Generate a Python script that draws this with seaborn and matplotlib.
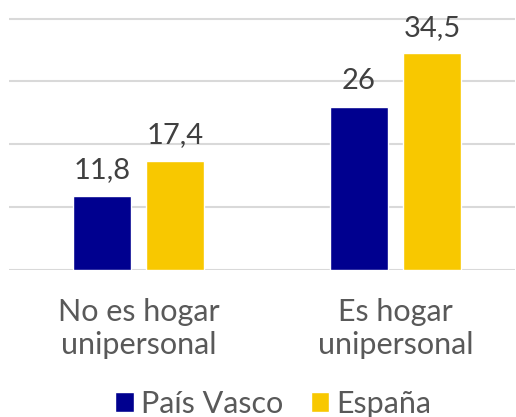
import pandas as pd
import matplotlib
matplotlib.use('Agg')
import matplotlib.pyplot as plt
import seaborn as sns

# ── Data ─────────────────────────────────────────────────────
categories = ['No es hogar\nunipersonal', 'Es hogar\nunipersonal']
series     = ['País Vasco', 'España']
pais_vasco = [11.8, 26.0]
espana     = [17.4, 34.5]
labels_pv  = ['11,8', '26']
labels_es  = ['17,4', '34,5']

NAVY   = '#00008f'
YELLOW = '#f8c800'
GRID   = '#d9d9d9'
LABEL  = '#404040'
TICK   = '#595959'

df = pd.DataFrame({
    'cat':   categories * 2,
    'serie': [series[0]] * 2 + [series[1]] * 2,
    'val':   pais_vasco + espana,
})

sns.set_style('white')
plt.rcParams['font.family'] = ['Lato', 'DejaVu Sans']

fig = plt.figure(figsize=(5.16, 4.17), dpi=100)
ax = fig.add_axes([9/516, 147/417, 506/516, 254/417])

sns.barplot(data=df, x='cat', y='val', hue='serie', order=categories,
            hue_order=series, palette=[NAVY, YELLOW], width=0.57, gap=0.21,
            saturation=1, ax=ax, legend=True)

ax.set_ylim(0, 40.4)
ax.set_xlim(-0.504, 1.465)
ax.set_yticks([0, 10, 20, 30, 40])
ax.yaxis.grid(True, color=GRID, linewidth=1.5)
ax.set_axisbelow(True)
ax.set_yticklabels([])
ax.tick_params(axis='y', length=0)
ax.tick_params(axis='x', length=0, pad=20, labelsize=22, labelcolor=TICK)
for lbl in ax.get_xticklabels():
    lbl.set_linespacing(1.22)
ax.set_xlabel(''); ax.set_ylabel('')
for s in ax.spines.values():
    s.set_visible(False)

for cont, labs in zip(ax.containers, [labels_pv, labels_es]):
    ax.bar_label(cont, labels=labs, padding=9, fontsize=21, color=LABEL)

ax.legend(loc='center', bbox_to_anchor=(0.522, -0.527), ncol=2, frameon=False,
          labelcolor=TICK, handlelength=0.62, handleheight=0.62,
          handletextpad=0.22, columnspacing=0.9, prop={'size': 22})

fig.savefig('out.png', dpi=100, facecolor='white')
